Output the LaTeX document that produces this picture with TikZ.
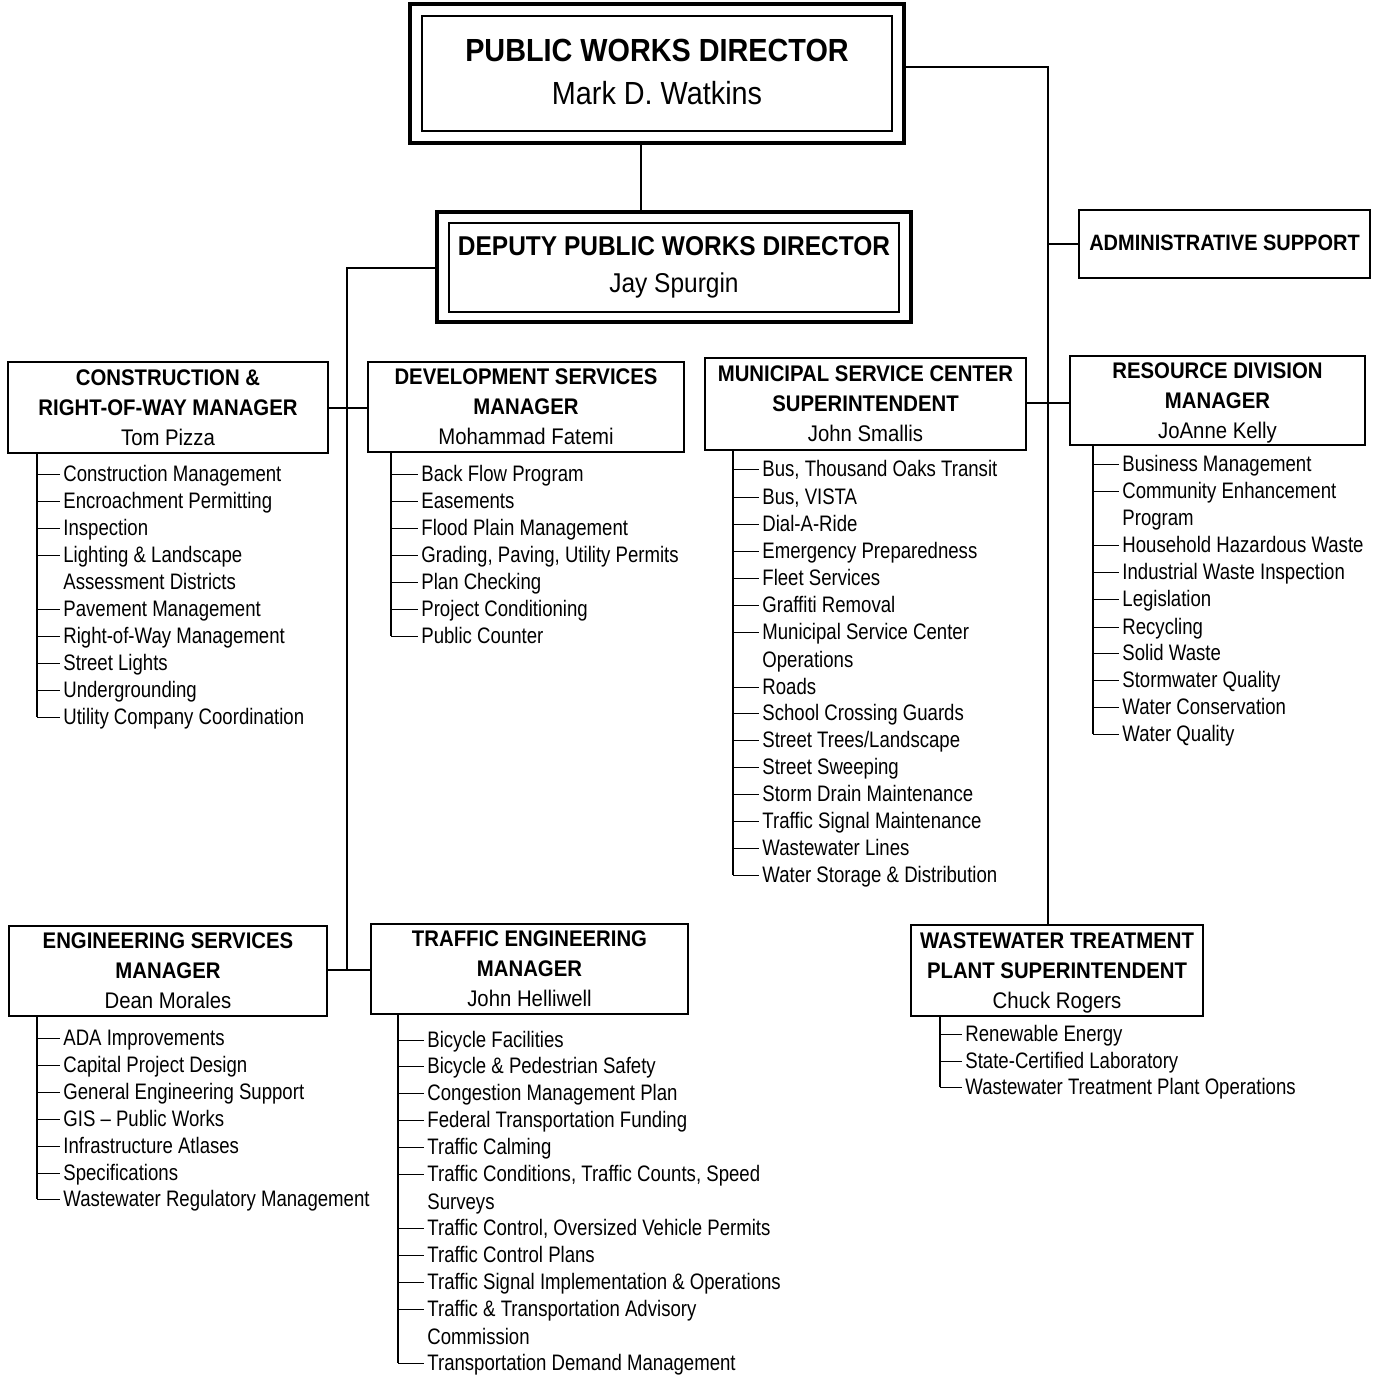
\documentclass[tikz,border=0pt]{standalone}
\usepackage{fontspec}
\setmainfont{Liberation Sans}[FakeStretch=0.9]
\newfontfamily\itemfont{Liberation Sans}[FakeStretch=0.83]
\begin{document}
\begin{tikzpicture}[x=0.5pt,y=-0.5pt,
  box/.style={draw, line width=1pt, inner sep=0pt, align=center, text depth=0pt, font=\fontsize{11.3}{15}\selectfont},
  outerbox/.style={draw, line width=1.6pt, inner sep=0pt},
  conn/.style={line width=1pt},
  spine/.style={line width=1pt},
  lst/.style={line width=0.5pt},
  item/.style={anchor=west, inner xsep=1.5pt, inner ysep=0pt, font=\itemfont\fontsize{11.2}{13}\selectfont, text height=9.2pt, text depth=1.5pt}]
\useasboundingbox[fill=white] (0,0) rectangle (1380,1377);

% Director
\node[outerbox, minimum width=247pt, minimum height=69.5pt] (pwdo) at (657,73.5) {};
\node[box, minimum width=235pt, minimum height=57.5pt, text depth=1.5pt, font=\fontsize{16}{21.2}\selectfont] (pwd) at (657,73.5) {{\bfseries PUBLIC WORKS DIRECTOR}\\Mark D. Watkins};

% Deputy
\node[outerbox, minimum width=237pt, minimum height=55pt] (depo) at (674,267) {};
\node[box, minimum width=225pt, minimum height=44.5pt, text depth=3pt, font=\fontsize{13.6}{18.3}\selectfont] (dep) at (674,267.5) {{\bfseries DEPUTY PUBLIC WORKS DIRECTOR}\\Jay Spurgin};

% Admin
\node[box, minimum width=145.5pt, minimum height=34pt, text depth=1.5pt, font=\fontsize{11.1}{13}\selectfont\bfseries] (adm) at (1224.5,244) {ADMINISTRATIVE SUPPORT};

% Managers
\node[box, minimum width=160pt, minimum height=45.5pt] (cons) at (168,407.5) {{\bfseries CONSTRUCTION \&}\\{\bfseries RIGHT-OF-WAY MANAGER}\\Tom Pizza};
\node[box, minimum width=158pt, minimum height=45pt] (dev) at (526,407) {{\bfseries DEVELOPMENT SERVICES}\\{\bfseries MANAGER}\\Mohammad Fatemi};
\node[box, minimum width=160.5pt, minimum height=46pt] (msc) at (865.5,404) {{\bfseries MUNICIPAL SERVICE CENTER}\\{\bfseries SUPERINTENDENT}\\John Smallis};
\node[box, minimum width=147.5pt, minimum height=44.5pt] (res) at (1217.5,400.5) {{\bfseries RESOURCE DIVISION}\\{\bfseries MANAGER}\\JoAnne Kelly};
\node[box, minimum width=159pt, minimum height=45pt] (eng) at (168,971) {{\bfseries ENGINEERING SERVICES}\\{\bfseries MANAGER}\\Dean Morales};
\node[box, minimum width=158.5pt, minimum height=45pt] (traf) at (529.5,969) {{\bfseries TRAFFIC ENGINEERING}\\{\bfseries MANAGER}\\John Helliwell};
\node[box, minimum width=146pt, minimum height=45.5pt] (wwt) at (1057,970.5) {{\bfseries WASTEWATER TREATMENT}\\{\bfseries PLANT SUPERINTENDENT}\\Chuck Rogers};

% Connectors
\coordinate (spLtop) at (347,268);
\coordinate (spLbot) at (347,970);
\coordinate (spRtop) at (1048,67);
\draw[conn] (pwdo.south -| 641,0) -- (depo.north -| 641,0);
\draw[conn] (depo.west |- spLtop) -- (spLtop) -- (spLbot);
\draw[conn] (cons.east) -- (dev.west |- cons.east);
\draw[conn] (eng.east |- spLbot) -- (traf.west |- spLbot);
\draw[conn] (pwdo.east |- spRtop) -- (spRtop) -- (wwt.north -| spRtop);
\draw[conn] (adm.west -| spRtop) -- (adm.west);
\draw[conn] (msc.east |- 0,403) -- (res.west |- 0,403);

% Construction list
\draw[spine] (cons.south -| 37,0) -- (37,717);
\foreach \n/\y/\t/\k in {1/474/{Construction Management}/1, 2/501/{Encroachment Permitting}/1, 3/528/{Inspection}/1, 4/555/{Lighting \& Landscape}/1, 5/582/{Assessment Districts}/0, 6/609/{Pavement Management}/1, 7/636/{Right-of-Way Management}/1, 8/663/{Street Lights}/1, 9/690/{Undergrounding}/1, 10/717/{Utility Company Coordination}/1}{
  \node[item] (ca\n) at (60,\y) {\t};
  \ifnum\k=1 \draw[lst] (37,\y) -- (ca\n.west);\fi
}

% Development list
\draw[spine] (dev.south -| 391,0) -- (391,636);
\foreach \n/\y/\t/\k in {1/474/{Back Flow Program}/1, 2/501/{Easements}/1, 3/528/{Flood Plain Management}/1, 4/555/{Grading, Paving, Utility Permits}/1, 5/582/{Plan Checking}/1, 6/609/{Project Conditioning}/1, 7/636/{Public Counter}/1}{
  \node[item] (da\n) at (418,\y) {\t};
  \ifnum\k=1 \draw[lst] (391,\y) -- (da\n.west);\fi
}

% MSC list
\draw[spine] (msc.south -| 733,0) -- (733,875);
\foreach \n/\y/\t/\k in {1/469/{Bus, Thousand Oaks Transit}/1, 2/497/{Bus, VISTA}/1, 3/524/{Dial-A-Ride}/1, 4/551/{Emergency Preparedness}/1, 5/578/{Fleet Services}/1, 6/605/{Graffiti Removal}/1, 7/632/{Municipal Service Center}/1, 8/660/{Operations}/0, 9/687/{Roads}/1, 10/713/{School Crossing Guards}/1, 11/740/{Street Trees/Landscape}/1, 12/767/{Street Sweeping}/1, 13/794/{Storm Drain Maintenance}/1, 14/821/{Traffic Signal Maintenance}/1, 15/848/{Wastewater Lines}/1, 16/875/{Water Storage \& Distribution}/1}{
  \node[item] (ma\n) at (759,\y) {\t};
  \ifnum\k=1 \draw[lst] (733,\y) -- (ma\n.west);\fi
}

% Resource list
\draw[spine] (res.south -| 1093,0) -- (1093,734);
\foreach \n/\y/\t/\k in {1/464/{Business Management}/1, 2/491/{Community Enhancement}/1, 3/518/{Program}/0, 4/545/{Household Hazardous Waste}/1, 5/572/{Industrial Waste Inspection}/1, 6/599/{Legislation}/1, 7/627/{Recycling}/1, 8/653/{Solid Waste}/1, 9/680/{Stormwater Quality}/1, 10/707/{Water Conservation}/1, 11/734/{Water Quality}/1}{
  \node[item] (ra\n) at (1119,\y) {\t};
  \ifnum\k=1 \draw[lst] (1093,\y) -- (ra\n.west);\fi
}

% Engineering list
\draw[spine] (eng.south -| 37,0) -- (37,1199);
\foreach \n/\y/\t/\k in {1/1038/{ADA Improvements}/1, 2/1065/{Capital Project Design}/1, 3/1092/{General Engineering Support}/1, 4/1119/{GIS – Public Works}/1, 5/1146/{Infrastructure Atlases}/1, 6/1173/{Specifications}/1, 7/1199/{Wastewater Regulatory Management}/1}{
  \node[item] (ea\n) at (60,\y) {\t};
  \ifnum\k=1 \draw[lst] (37,\y) -- (ea\n.west);\fi
}

% Traffic list
\draw[spine] (traf.south -| 398,0) -- (398,1363);
\foreach \n/\y/\t/\k in {1/1040/{Bicycle Facilities}/1, 2/1066/{Bicycle \& Pedestrian Safety}/1, 3/1093/{Congestion Management Plan}/1, 4/1120/{Federal Transportation Funding}/1, 5/1147/{Traffic Calming}/1, 6/1174/{Traffic Conditions, Traffic Counts, Speed}/1, 7/1202/{Surveys}/0, 8/1228/{Traffic Control, Oversized Vehicle Permits}/1, 9/1255/{Traffic Control Plans}/1, 10/1282/{Traffic Signal Implementation \& Operations}/1, 11/1309/{Traffic \& Transportation Advisory}/1, 12/1337/{Commission}/0, 13/1363/{Transportation Demand Management}/1}{
  \node[item] (ta\n) at (424,\y) {\t};
  \ifnum\k=1 \draw[lst] (398,\y) -- (ta\n.west);\fi
}

% Wastewater list
\draw[spine] (wwt.south -| 940,0) -- (940,1087);
\foreach \n/\y/\t/\k in {1/1034/{Renewable Energy}/1, 2/1061/{State-Certified Laboratory}/1, 3/1087/{Wastewater Treatment Plant Operations}/1}{
  \node[item] (wa\n) at (962,\y) {\t};
  \ifnum\k=1 \draw[lst] (940,\y) -- (wa\n.west);\fi
}
\end{tikzpicture}
\end{document}
